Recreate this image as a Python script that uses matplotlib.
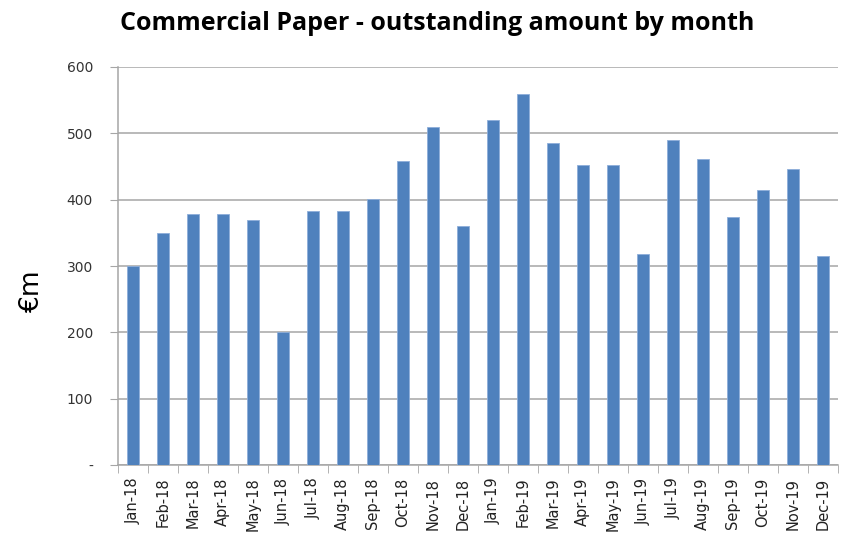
import matplotlib
matplotlib.use("Agg")
import matplotlib.pyplot as plt
import numpy as np
from matplotlib.ticker import FixedLocator

months = ["Jan-18", "Feb-18", "Mar-18", "Apr-18", "May-18", "Jun-18",
          "Jul-18", "Aug-18", "Sep-18", "Oct-18", "Nov-18", "Dec-18",
          "Jan-19", "Feb-19", "Mar-19", "Apr-19", "May-19", "Jun-19",
          "Jul-19", "Aug-19", "Sep-19", "Oct-19", "Nov-19", "Dec-19"]
outstanding = [300, 350, 379, 379, 370, 200,
               383, 383, 401, 459, 510, 361,
               520, 560, 486, 452, 452, 318,
               490, 461, 374, 414, 446, 316]
y_ticks = [0, 100, 200, 300, 400, 500, 600]
y_tick_labels = ["-", "100", "200", "300", "400", "500", "600"]

fig = plt.figure(figsize=(8.42, 5.36), dpi=100)
ax = fig.add_axes([0.140, 0.132, 0.855, 0.743])

x = np.arange(len(months))
ax.bar(x, outstanding, width=0.4, color="#4F81BD", edgecolor="#8EAEDA",
       linewidth=0.6, zorder=3)

ax.set_xlim(-0.5, len(months) - 0.5)
ax.set_ylim(0, 600)
ax.set_yticks(y_ticks)
ax.set_yticklabels(y_tick_labels, fontsize=10, color="#333333")
ax.yaxis.grid(True, color="#A6A6A6", linewidth=1.1, zorder=0)
ax.tick_params(axis="y", length=6, color="#A6A6A6", pad=12)

ax.set_xticks(x)
ax.set_xticklabels(months, rotation=90, fontsize=10.5, color="#222222")
ax.tick_params(axis="x", which="major", length=0, pad=9)
ax.xaxis.set_minor_locator(FixedLocator(np.arange(-0.5, len(months), 1.0)))
ax.tick_params(axis="x", which="minor", length=6, color="#A6A6A6")

for side in ("top", "right"):
    ax.spines[side].set_visible(False)
for side in ("left", "bottom"):
    ax.spines[side].set_color("#A6A6A6")
    ax.spines[side].set_linewidth(1.1)

fig.text(0.038, 0.458, "€m", rotation=90, ha="center", va="center",
         fontsize=19)

fig.text(0.519, 0.957, "Commercial Paper - outstanding amount by month",
         ha="center", va="center", fontsize=18, fontweight="bold",
         family="Open Sans")

fig.savefig("out.png", dpi=100)
